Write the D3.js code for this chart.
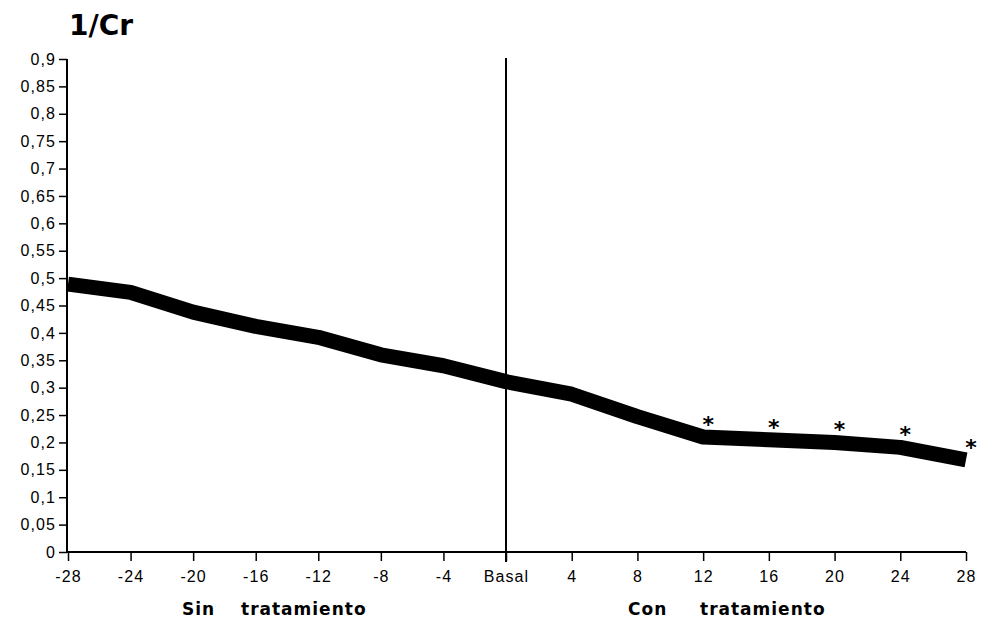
<!DOCTYPE html>
<html>
<head>
<meta charset="utf-8">
<script src="https://cdn.jsdelivr.net/npm/d3@7"></script>
<style>
  body { margin: 0; background: #fff; }
  svg { font-family: "DejaVu Sans", Arial, sans-serif; }
</style>
</head>
<body>
<div id="chart"></div>
<script>
// data
const weeks = ["-28","-24","-20","-16","-12","-8","-4","Basal","4","8","12","16","20","24","28"]
const invCr = [0.489,0.474,0.438,0.412,0.392,0.360,0.340,0.311,0.288,0.247,0.210,0.205,0.200,0.191,0.168]
const starred = ["12","16","20","24","28"]
const yTicks = d3.range(0, 0.9001, 0.05)

const dim = {outer_width: 981, outer_height: 629}

const svg = d3.select("#chart").append("svg")
  .attr("width", dim.outer_width).attr("height", dim.outer_height)

// the original spacing is a little tighter before Basal than after it
const xi = d3.scaleLinear().domain([0, weeks.indexOf("Basal"), weeks.length - 1]).range([68, 506, 966])
const x = w => xi(weeks.indexOf(w))
const y = d3.scaleLinear().domain([0, 0.9]).range([552, 59])

const fmt = v => d3.format(".2~f")(v).replace(".", ",")

function styleTicks(g) {
  g.selectAll("text")
    .style("font-size", "16px")
    .style("letter-spacing", "1.1px")
    .attr("fill", "#000")
  g.selectAll(".tick line").attr("stroke-width", 1.5)
}

// y axis
const yAxis = svg.append("g")
  .attr("transform", "translate(67,0)")
  .call(d3.axisLeft(y).tickValues(yTicks).tickFormat(fmt).tickSize(8).tickPadding(3))
yAxis.select(".domain").attr("d", "M0," + y(0.9) + "V" + y(0)).attr("stroke-width", 2)
styleTicks(yAxis)

// x axis
const xAxis = svg.append("g")
  .attr("transform", "translate(0," + y(0) + ")")
  .call(d3.axisBottom(xi).tickValues(d3.range(weeks.length)).tickFormat(i => weeks[i]).tickSize(9).tickPadding(10))
xAxis.select(".domain").attr("d", "M67,0H" + x("28")).attr("stroke-width", 2)
styleTicks(xAxis)

// divider at basal
svg.append("line")
  .attr("x1", x("Basal")).attr("x2", x("Basal"))
  .attr("y1", y(0.9) - 1).attr("y2", y(0) + 10)
  .attr("stroke", "#000").attr("stroke-width", 2)

// thick line
const line = d3.line()
  .x((d, i) => xi(i))
  .y(d => y(d))
svg.append("path")
  .attr("d", line(invCr))
  .attr("fill", "none")
  .attr("stroke", "#000")
  .attr("stroke-width", 15)
  .attr("stroke-linejoin", "round")

// asterisks
starred.forEach(w => {
  const i = weeks.indexOf(w)
  svg.append("text")
    .attr("x", x(w) + 5).attr("y", y(invCr[i]) - 5)
    .attr("text-anchor", "middle")
    .style("font-size", "22px").style("font-weight", "bold")
    .text("*")
})

// title
svg.append("text")
  .attr("x", 69).attr("y", 35)
  .style("font-size", "28px").style("font-weight", "bold")
  .text("1/Cr")

// group labels, the words sit far apart
const groups = [["Sin", 182], ["tratamiento", 241], ["Con", 628], ["tratamiento", 700]]
groups.forEach(g => {
  svg.append("text")
    .attr("x", g[1]).attr("y", 615)
    .style("font-size", "17px").style("font-weight", "bold")
    .style("letter-spacing", "1px")
    .text(g[0])
})
</script>
</body>
</html>
